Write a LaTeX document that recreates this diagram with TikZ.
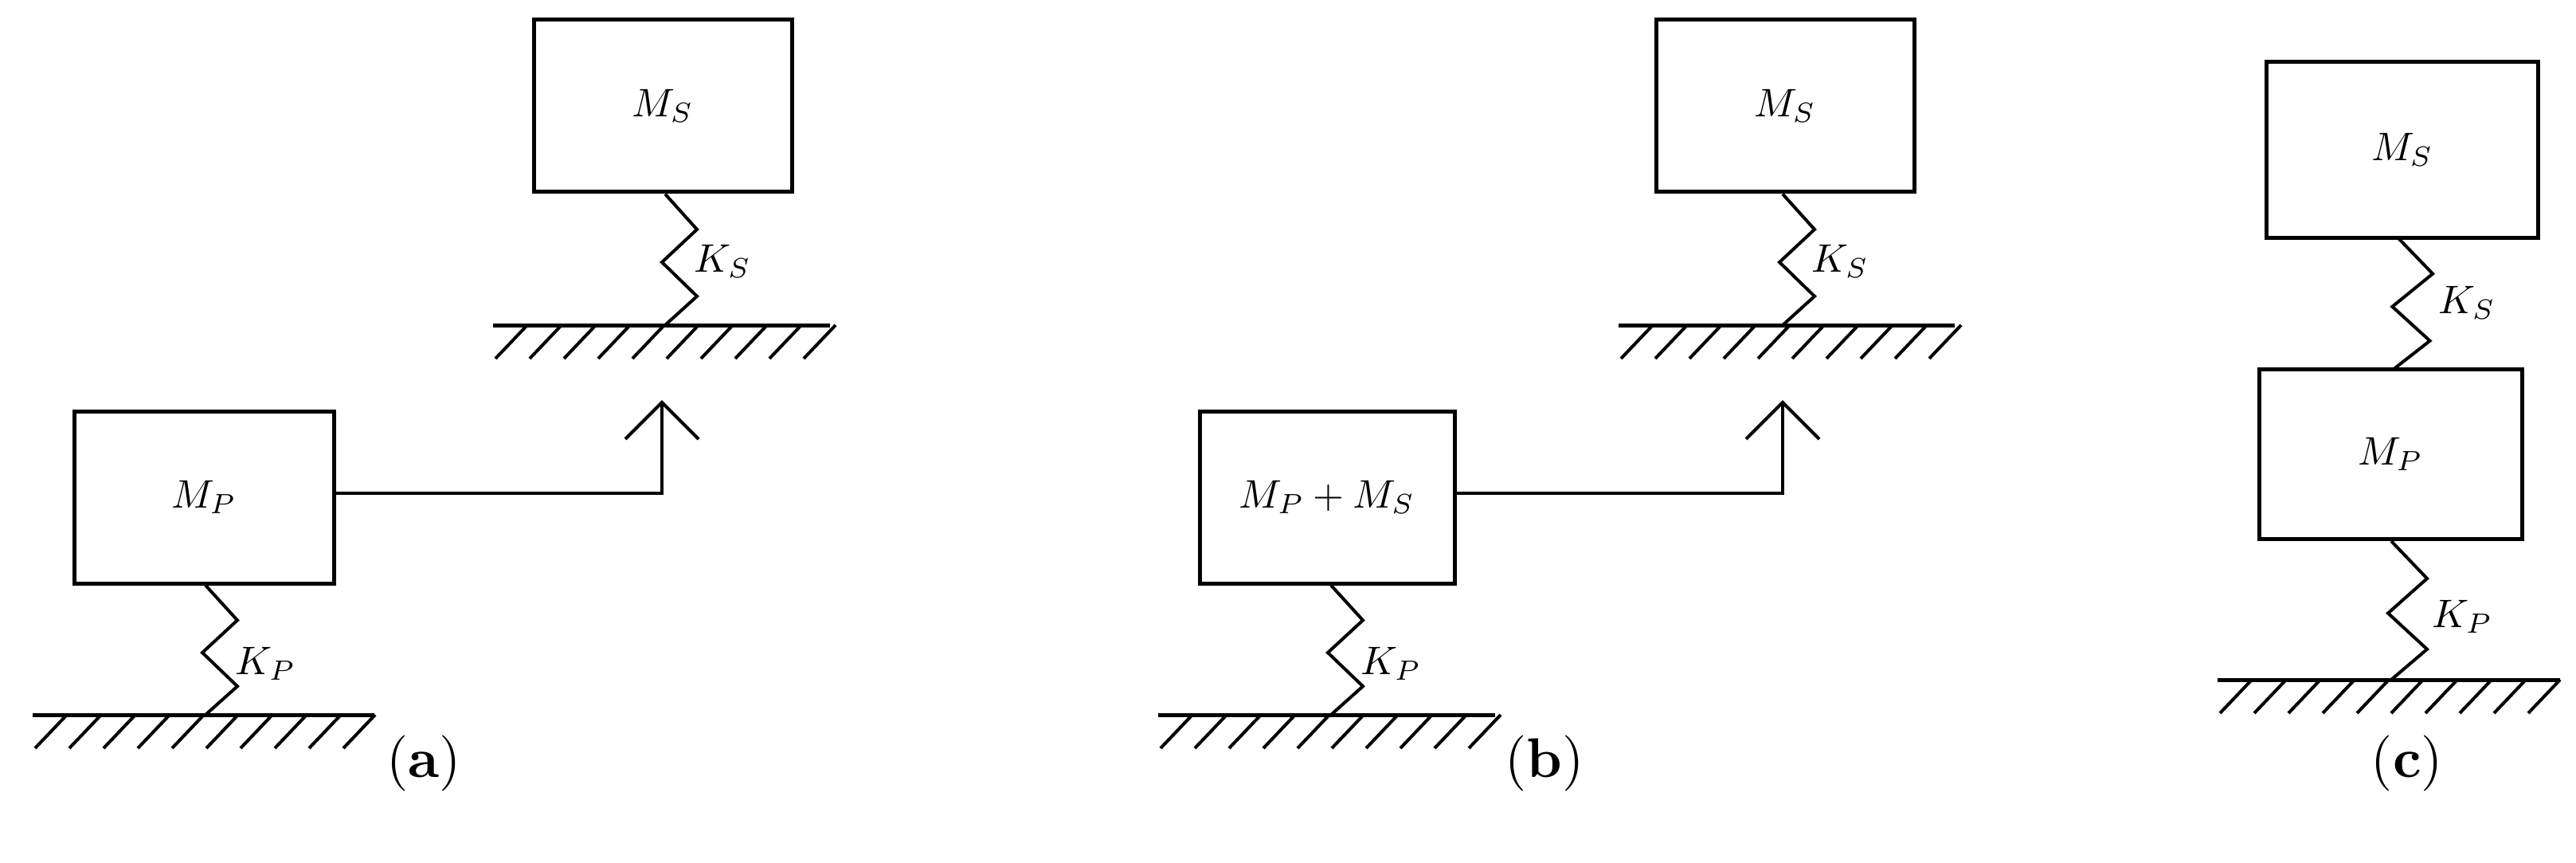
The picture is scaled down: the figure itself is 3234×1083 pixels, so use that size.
\documentclass[tikz,border=0pt]{standalone}
\usepackage{graphicx}
\usetikzlibrary{calc}
\newcommand{\xxmath}[1]{\scalebox{5}{$#1$}}
\newcommand{\xxcapt}[1]{\scalebox{7}{(\textbf{#1})}}
\begin{document}
\begin{tikzpicture}[x=1pt,y=-1pt,
  box/.style={draw,line width=5pt,inner sep=0pt},
  wire/.style={line width=4pt},
  lbl/.style={anchor=west}]
\useasboundingbox (0,0) rectangle (3234,1083);
\newcommand{\myspring}[3]{% top, bottom, amplitude
  \draw[wire,line join=miter] (#1) -- ($(#1)!0.27!(#2)+(#3,0)$) -- ($(#1)!0.52!(#2)+(-4,0)$) -- ($(#1)!0.78!(#2)+(#3,0)$) -- (#2);}
\newcommand{\myground}[3]{% centre coord, left extent, right extent
  \draw[line width=5pt] ($(#1)+(-#2,0)$) -- ($(#1)+(#3,0)$);
  \foreach \i in {1,...,10}{\draw[wire] ($(#1)+(-#2,0)+(43*\i,0)$) -- ++(-40,42);}}
% ---------------- (a)
\node[box,minimum width=324pt,minimum height=216pt] (msa) at (832,133) {\xxmath{M_S}};
\coordinate (ga) at (835,408);
\myspring{msa.south -| ga}{ga}{40}
\node[lbl] (ksa) at (868,328) {\xxmath{K_S}};
\myground{ga}{216}{207}
\node[box,minimum width=326pt,minimum height=216pt] (mpa) at (256,624) {\xxmath{M_P}};
\coordinate (gpa) at (258,897);
\myspring{mpa.south -| gpa}{gpa}{40}
\node[lbl] (kpa) at (292,833) {\xxmath{K_P}};
\myground{gpa}{217}{212}
\coordinate (aa) at (831,505);
\draw[wire] (mpa.east |- 0,619) -- (831,619) -- (aa);
\draw[wire] ($(aa)+(-46,46)$) -- (aa) -- ($(aa)+(46,46)$);
\node (capa) at (532,958) {\xxcapt{a}};
% ---------------- (b)
\node[box,minimum width=324pt,minimum height=216pt] (msb) at (2241,133) {\xxmath{M_S}};
\coordinate (gb) at (2238,408);
\myspring{msb.south -| gb}{gb}{40}
\node[lbl] (ksb) at (2271,328) {\xxmath{K_S}};
\myground{gb}{206}{216}
\node[box,minimum width=320pt,minimum height=216pt] (mpb) at (1666,624) {\xxmath{M_P + M_S}};
\coordinate (gpb) at (1671,897);
\myspring{mpb.south -| gpb}{gpb}{40}
\node[lbl] (kpb) at (1705,833) {\xxmath{K_P}};
\myground{gpb}{217}{206}
\coordinate (ab) at (2238,505);
\draw[wire] (mpb.east |- 0,619) -- (2238,619) -- (ab);
\draw[wire] ($(ab)+(-46,46)$) -- (ab) -- ($(ab)+(46,46)$);
\node (capb) at (1939,958) {\xxcapt{b}};
% ---------------- (c)
\node[box,minimum width=341pt,minimum height=221pt] (msc) at (3016,188) {\xxmath{M_S}};
\node[box,minimum width=330pt,minimum height=213pt] (mpc) at (3001,570) {\xxmath{M_P}};
\coordinate (sc) at (3011,299);
\coordinate (tc) at (3004,464);
\myspring{sc}{tc}{45}
\node[lbl] (ksc) at (3058,380) {\xxmath{K_S}};
\coordinate (gc) at (3002,853);
\myspring{mpc.south -| gc}{gc}{45}
\node[lbl] (kpc) at (3050,774) {\xxmath{K_P}};
\myground{gc}{218}{212}
\node (capc) at (3022,958) {\xxcapt{c}};
\end{tikzpicture}
\end{document}
